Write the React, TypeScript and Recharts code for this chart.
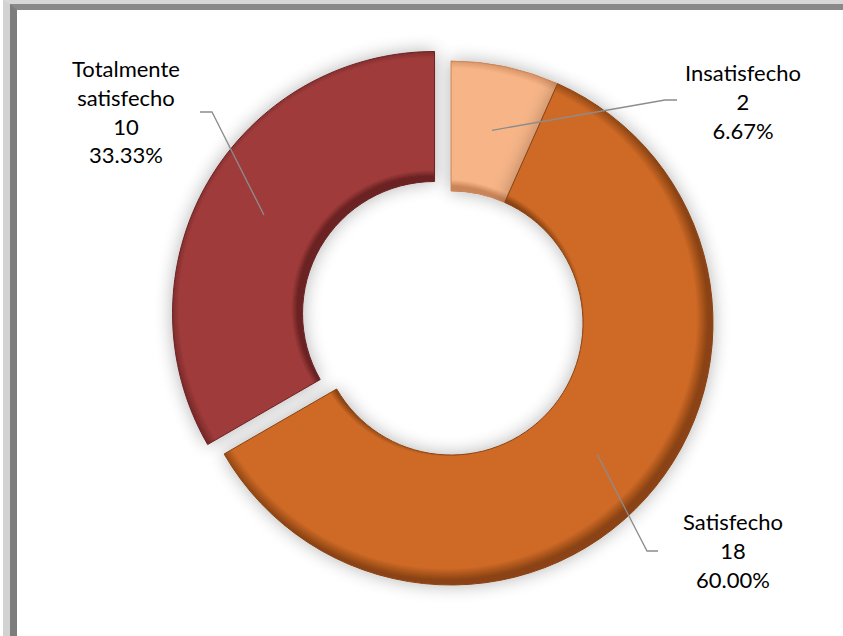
import { PieChart, Pie, Cell } from 'recharts';

const categories = ['Insatisfecho', 'Satisfecho', 'Totalmente satisfecho'];
const counts = [2, 18, 10];
const colors = ['#F7B587', '#CF6A27', '#A03B3B'];
const rimColors = ['#C98458', '#8A4312', '#6A2222'];
const exploded = [false, false, true];

const data = categories.map((name, i) => ({ name, value: counts[i] }));

const CX = 446;
const CY = 318;
const INNER = 132;
const OUTER = 262;
const EXPLODE = 19;
const RADIAN = Math.PI / 180;
const LINE_H = 28.8;

// where each label sits, relative to the pie centre (text = centre x, first baseline)
const labelLayout: Record<string, { elbow: number[]; end: number[]; text: number[] }> = {
  Insatisfecho: { elbow: [214, -223], end: [226, -223], text: [292, -242] },
  Satisfecho: { elbow: [196, 228], end: [207, 228], text: [282, 207] },
  'Totalmente satisfecho': { elbow: [-239, -211], end: [-251, -211], text: [-325, -246] },
};

const total = counts.reduce((a, b) => a + b, 0);
const explodeIdx = exploded.indexOf(true);
const before = counts.slice(0, explodeIdx).reduce((a, b) => a + b, 0);
const explodeMid = 90 - ((before + counts[explodeIdx] / 2) / total) * 360;
const exDx = EXPLODE * Math.cos(explodeMid * RADIAN);
const exDy = -EXPLODE * Math.sin(explodeMid * RADIAN);

function renderLabel(props: any) {
  const { cx, cy, midAngle, innerRadius, outerRadius, percent, index } = props;
  const name = categories[index];
  const lay = labelLayout[name];
  const r = (innerRadius + outerRadius) / 2;
  const off = exploded[index] ? [exDx, exDy] : [0, 0];
  const sx = cx + off[0] + r * Math.cos(-midAngle * RADIAN);
  const sy = cy + off[1] + r * Math.sin(-midAngle * RADIAN);
  const lines = [...name.split(' '), String(counts[index]), `${(percent * 100).toFixed(2)}%`];
  return (
    <g key={`lbl-${index}`}>
      <polyline
        points={`${sx},${sy} ${cx + lay.elbow[0]},${cy + lay.elbow[1]} ${cx + lay.end[0]},${cy + lay.end[1]}`}
        fill="none"
        stroke="#8c8c8c"
        strokeWidth={1.3}
      />
      {lines.map((t, k) => (
        <text
          key={k}
          x={cx + lay.text[0]}
          y={cy + lay.text[1] + k * LINE_H}
          textAnchor="middle"
          fill="#000"
          fontSize={22}
          fontFamily="Lato, 'Open Sans', sans-serif"
        >
          {t}
        </text>
      ))}
    </g>
  );
}

export default function App() {
  return (
    <div style={{ position: 'absolute', left: 0, top: 0, width: 843, height: 636, background: '#fff', overflow: 'hidden' }}>
      <div
        style={{
          position: 'absolute',
          left: 3,
          top: 0,
          width: 860,
          height: 660,
          borderLeft: '7px solid #d2d2d2',
          borderTop: '4px solid #d8d8d8',
        }}
      />
      <div
        style={{
          position: 'absolute',
          left: 10,
          top: 4,
          width: 860,
          height: 660,
          borderLeft: '7px solid #7d7d7d',
          borderTop: '6px solid #8a8a8a',
        }}
      />
      <div style={{ position: 'absolute', left: 0, top: 0 }}>
        <PieChart width={843} height={636}>
          <defs>
            <filter id="glow" x="-30%" y="-30%" width="160%" height="160%">
              <feGaussianBlur in="SourceAlpha" stdDeviation="9" />
              <feComponentTransfer>
                <feFuncA type="linear" slope="0.3" />
              </feComponentTransfer>
              <feMerge>
                <feMergeNode />
                <feMergeNode in="SourceGraphic" />
              </feMerge>
            </filter>
            {colors.map((c, i) => (
              <radialGradient key={i} id={`bevel${i}`} gradientUnits="userSpaceOnUse"
                cx={CX + (exploded[i] ? exDx : 0)} cy={CY + (exploded[i] ? exDy : 0)} r={OUTER}>
                <stop offset={INNER / OUTER} stopColor={rimColors[i]} />
                <stop offset={INNER / OUTER + 0.025} stopColor={c} />
                <stop offset={0.955} stopColor={c} />
                <stop offset={1} stopColor={rimColors[i]} />
              </radialGradient>
            ))}
          </defs>
          <Pie
            data={data}
            dataKey="value"
            nameKey="name"
            cx={CX}
            cy={CY}
            innerRadius={INNER}
            outerRadius={OUTER}
            startAngle={90}
            endAngle={-270}
            stroke="#6e3b22"
            strokeWidth={1}
            label={renderLabel}
            labelLine={false}
            isAnimationActive={false}
          >
            {data.map((d, i) => (
              <Cell
                key={d.name}
                fill={exploded[i] ? 'transparent' : `url(#bevel${i})`}
                stroke={exploded[i] ? 'none' : rimColors[i]}
                filter={exploded[i] ? undefined : 'url(#glow)'}
              />
            ))}
          </Pie>
          <Pie
            data={data}
            dataKey="value"
            nameKey="name"
            cx={CX + exDx}
            cy={CY + exDy}
            innerRadius={INNER}
            outerRadius={OUTER}
            startAngle={90}
            endAngle={-270}
            label={false}
            labelLine={false}
            isAnimationActive={false}
          >
            {data.map((d, i) => (
              <Cell
                key={d.name}
                fill={exploded[i] ? `url(#bevel${i})` : 'transparent'}
                stroke={exploded[i] ? rimColors[i] : 'none'}
                filter={exploded[i] ? 'url(#glow)' : undefined}
              />
            ))}
          </Pie>
        </PieChart>
      </div>
    </div>
  );
}
